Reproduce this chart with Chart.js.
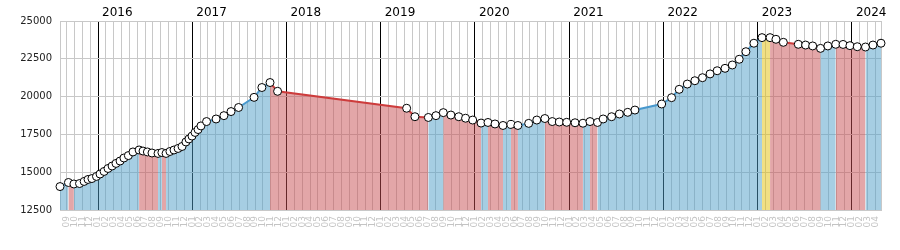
<!DOCTYPE html>
<html>
<head>
<meta charset="utf-8">
<script src="https://cdn.jsdelivr.net/npm/chart.js@4/dist/chart.umd.min.js"></script>
<style>
html,body{margin:0;padding:0;background:#fff;}
#c{display:block;}
</style>
</head>
<body>
<canvas id="c" width="900" height="250"></canvas>
<script>
// ---- data ----
const dates = [
  '2015-08-06','2015-09-08','2015-09-29','2015-10-21','2015-11-08','2015-11-23','2015-12-08','2015-12-26',
  '2016-01-09','2016-01-25','2016-02-09','2016-02-24','2016-03-10','2016-03-26','2016-04-10','2016-04-27',
  '2016-05-15','2016-06-08','2016-06-23','2016-07-10','2016-07-28','2016-08-21','2016-09-05','2016-09-21',
  '2016-10-06','2016-10-22','2016-11-07','2016-11-22','2016-12-07','2016-12-19','2016-12-31',
  '2017-01-12','2017-01-24','2017-02-04','2017-02-24','2017-04-02','2017-05-02','2017-05-30','2017-06-28',
  '2017-08-28','2017-09-27','2017-10-29','2017-11-27',
  '2019-04-10','2019-05-12','2019-07-03','2019-08-02','2019-08-31','2019-09-29','2019-10-30','2019-11-25','2019-12-23',
  '2020-01-25','2020-02-20','2020-03-18','2020-04-18','2020-05-19','2020-06-15','2020-07-27','2020-08-28',
  '2020-09-28','2020-10-27','2020-11-23','2020-12-22',
  '2021-01-24','2021-02-22','2021-03-21','2021-04-19','2021-05-11','2021-06-13','2021-07-13','2021-08-15',
  '2021-09-12','2021-12-25',
  '2022-02-02','2022-03-01','2022-04-02','2022-05-01','2022-05-31','2022-06-29','2022-07-27','2022-08-27',
  '2022-09-24','2022-10-21','2022-11-16','2022-12-17',
  '2023-01-18','2023-02-17','2023-03-11','2023-04-09','2023-06-06','2023-07-04','2023-08-01','2023-09-01',
  '2023-09-29','2023-10-30','2023-11-27','2023-12-24',
  '2024-01-22','2024-02-22','2024-03-22','2024-04-22'
];
const values = [
  14050,14320,14220,14250,14390,14520,14580,14720,
  14880,15050,15245,15410,15580,15740,15940,16100,
  16340,16470,16400,16340,16270,16240,16300,16240,
  16370,16470,16570,16700,17000,17200,17390,
  17630,17820,18060,18350,18520,18740,19010,19280,
  19950,20600,20930,20350,
  19230,18670,18620,18740,18940,18780,18670,18570,18450,
  18250,18290,18190,18090,18160,18090,18230,18450,
  18550,18350,18320,18300,
  18270,18240,18350,18290,18520,18670,18850,18960,
  19110,19510,
  19930,20480,20830,21050,21250,21500,21710,21870,
  22090,22470,22970,23530,
  23900,23900,23790,23590,23460,23410,23350,23190,
  23350,23460,23450,23370,
  23300,23280,23410,23530
];
const monthLabels = ['01','02','03','04','05','06','07','08','09','10','11','12'];
const yearLabels = ['2016','2017','2018','2019','2020','2021','2022','2023','2024'];
const yTickValues = [12500,15000,17500,20000,22500,25000];

// ---- colours ----
const upLine = 'rgb(72,152,205)', upFill = 'rgba(77,157,199,0.5)';
const downLine = 'rgb(205,60,60)', downFill = 'rgba(199,77,81,0.5)';
const flatLine = 'rgb(230,190,20)', flatFill = 'rgba(228,192,10,0.5)';
const gridGray = '#c8c8c8';

// month index: 0 = Sep 2015
function monthPos(s){
  const p = s.split('-').map(Number);
  const dim = new Date(p[0], p[1], 0).getDate();
  return (p[0]-2015)*12 + (p[1]-9) + (p[2]-1)/dim;
}
const xs = dates.map(monthPos);
const points = xs.map((x,i)=>({x:x, y:values[i]}));
const xMin = xs[0], xMax = xs[xs.length-1];
const monthTicks = [];
for (let m = Math.ceil(xMin); m <= Math.floor(xMax); m++) monthTicks.push(m);
const yearTicks = yearLabels.map(y => (Number(y)-2015)*12 - 8);

function trend(ctx){ return ctx.p1.parsed.y - ctx.p0.parsed.y; }

Chart.defaults.font.family = 'DejaVu Sans';

new Chart(document.getElementById('c'), {
  type: 'line',
  data: {
    datasets: [{
      data: points,
      xAxisID: 'x', yAxisID: 'y',
      borderWidth: 2,
      tension: 0,
      fill: 'start',
      clip: false,
      borderColor: upLine,
      backgroundColor: upFill,
      pointRadius: 4,
      pointBorderWidth: 1,
      pointBorderColor: '#000',
      pointBackgroundColor: '#fff',
      segment: {
        borderColor: ctx => { const d = trend(ctx); return d > 0 ? upLine : d < 0 ? downLine : flatLine; },
        backgroundColor: ctx => { const d = trend(ctx); return d > 0 ? upFill : d < 0 ? downFill : flatFill; }
      }
    }]
  },
  options: {
    responsive: false,
    animation: false,
    devicePixelRatio: 1,
    layout: { padding: { left: 0, right: 19, top: 0, bottom: 0 } },
    plugins: { legend: { display: false }, tooltip: { enabled: false } },
    scales: {
      x: {
        type: 'linear', position: 'bottom', min: xMin, max: xMax,
        afterBuildTicks: s => { s.ticks = monthTicks.map(v => ({value: v})); },
        afterFit: s => { s.height = 40; },
        grid: {
          drawTicks: false,
          color: c => (c.tick && (((c.tick.value % 12) + 12) % 12) === 4) ? '#000' : gridGray
        },
        border: { color: gridGray },
        ticks: {
          autoSkip: false, minRotation: 90, maxRotation: 90, padding: 6,
          color: '#c4c4c4', font: { size: 9 },
          callback: v => monthLabels[(((v + 8) % 12) + 12) % 12]
        }
      },
      x2: {
        type: 'linear', position: 'top', min: xMin, max: xMax,
        afterBuildTicks: s => { s.ticks = yearTicks.map(v => ({value: v})); },
        afterFit: s => { s.height = 21; },
        grid: { display: false, drawTicks: false },
        border: { display: false },
        ticks: {
          autoSkip: false, minRotation: 0, maxRotation: 0, align: 'start', labelOffset: 4, padding: 1,
          color: '#000', font: { size: 12 },
          callback: (v, i) => yearLabels[i]
        }
      },
      y: {
        type: 'linear', position: 'left', min: 12500, max: 25000,
        afterBuildTicks: s => { s.ticks = yTickValues.map(v => ({value: v})); },
        afterFit: s => { s.width = 60; },
        grid: { drawTicks: false, color: gridGray },
        border: { color: gridGray },
        ticks: { padding: 8, color: '#222', font: { size: 10 }, callback: v => String(v) }
      },
      yR: {
        type: 'linear', position: 'right', min: 12500, max: 25000,
        afterFit: s => { s.width = 0; },
        grid: { drawOnChartArea: false, drawTicks: false },
        border: { display: true, color: gridGray },
        ticks: { display: false }
      }
    }
  }
});
</script>
</body>
</html>
